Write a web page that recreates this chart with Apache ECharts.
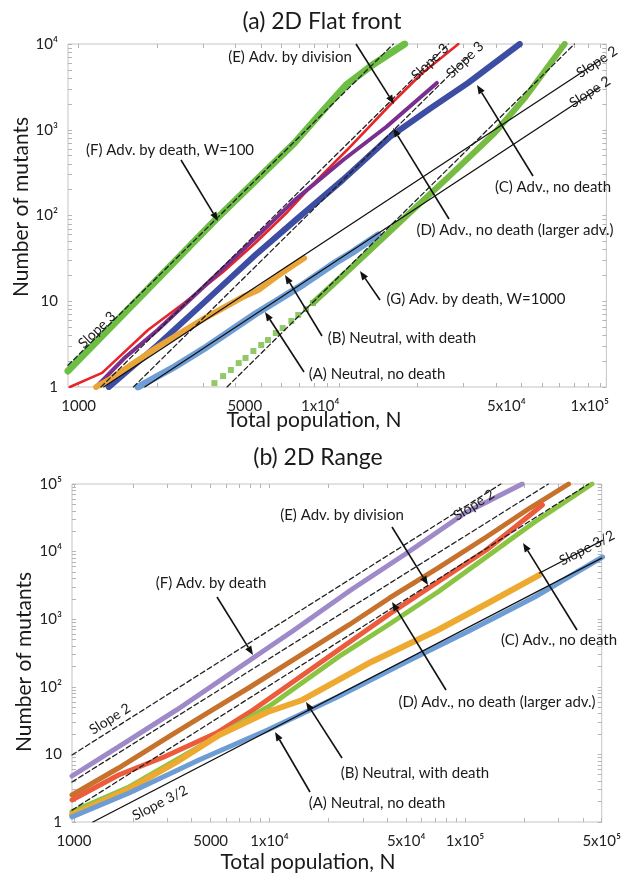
<!DOCTYPE html>
<html><head><meta charset="utf-8">
<script src="https://cdn.jsdelivr.net/npm/echarts@6/dist/echarts.min.js"></script>
<style>html,body{margin:0;padding:0;background:#fff}#c{width:624px;height:874px}</style>
</head><body><div id="c"></div>
<script>
// ---------- Panel (a) 2D Flat front : [N, mutants] ----------
const aF = [[910,1.54],[1845,13.9],[3342,88.6],[4764,253],[6730,700],[8710,1700],[10620,3325],[13400,5690],[17820,10000]];
const aE = [[925,1],[1230,1.46],[1845,4.62],[2537,9.54],[3580,21.9],[4764,47.8],[6330,110],[8000,239],[10710,580],[15660,1944],[20650,4470],[28650,10000]];
const aD = [[1167,1],[1514,2.24],[2010,4.62],[3098,15.9],[4764,54.7],[6730,150],[10350,444],[15140,1077],[23700,3510]];
const aC = [[1306,1],[2010,3.09],[3098,10.3],[4764,34.6],[6730,86],[10350,262],[15660,830],[22490,1795],[31190,3510],[49300,10000]];
const aGsq = [[3318,1.11],[3583,1.34],[3838,1.58],[4113,1.90],[4369,2.18],[4683,2.63],[5018,3.09],[5329,3.53],[5710,4.26],[6067,4.87],[6551,5.89],[6960,6.92],[7460,8.12],[7927,9.54]];
const aG = [[7927,9.54],[11090,24.4],[18620,107],[26240,281],[39470,916],[51900,2410],[73300,10000]];
const aA = [[1690,1],[2328,1.71],[3098,2.93],[4764,7.10],[7330,15.9],[9745,28.7],[11280,37.5],[14120,59.3]];
const aB = [[1167,1],[1306,1.21],[2010,2.93],[3098,6.55],[4256,11.2],[4888,13.5],[6013,21.4],[7330,31.9]];
// reference lines (a)
const aRefF = [[910,1.79],[16130,10000]];      // slope 3
const aRefE = [[1218,1],[26240,10000]];        // slope 3
const aRefC = [[1622,1],[31000,6970]];         // slope 3
const aRefG = [[3710,1],[79900,10000]];        // slope 3
const aRefA = [[1793,1],[100000,3110]];        // slope 2
const aRefB = [[1247,1],[100000,6430]];        // slope 2

// ---------- Panel (b) 2D Range ----------
const bF = [[977,4.79],[1914,16.3],[3350,45.4],[7960,249],[13150,669],[26060,2704],[50460,9530],[100000,37240],[196000,100000]];
const bE = [[977,2.51],[1690,6.29],[2985,17.5],[5108,45.4],[7960,99.3],[13150,249],[25450,821],[41110,2060],[72600,5718],[128500,16440],[214700,44150],[338600,100000]];
const bD = [[977,2.12],[1690,4.96],[2884,9.16],[5346,20.7],[7960,42.4],[13150,118],[23240,375],[41110,1194],[72600,3548],[128500,10560],[248800,48900]];
const bC = [[977,1.41],[1914,3.29],[4355,12.9],[10000,52],[23240,295],[41110,849],[72600,2525],[128500,8320],[227200,27400],[445400,100000]];
const bB = [[977,1.27],[1914,3.08],[3350,7.72],[5531,19.4],[9774,42.4],[14730,63.8],[33110,233],[72600,692],[128500,1678],[240400,4508]];
const bA = [[977,1.19],[1914,2.69],[4355,8.26],[9774,23.0],[22230,70.6],[49890,233],[102300,647],[227200,2130],[505000,8320]];
const bRefF = [[977,9.8],[152400,100000]];     // "slope 2"
const bRefE = [[977,3.9],[266700,100000]];     // "slope 2"
const bRefC = [[977,1.5],[428500,100000]];     // "slope 2"
const bRefA = [[1250,1],[500000,8000]];        // slope 3/2
const bRefB = [[240400,4823],[505000,14690]];  // slope 3/2

// ---------- ticks / labels ----------
const xTickA = [1000,2000,3000,4000,5000,6000,7000,8000,9000,10000,20000,30000,40000,50000,60000,70000,80000,90000,100000];
const xTickB = [1000,2000,3000,4000,5000,6000,7000,8000,9000,10000,20000,30000,40000,50000,60000,70000,80000,90000,100000,200000,300000,400000,500000];
const xLabA = [1000,5000,10000,50000,100000];
const xLabB = [1000,5000,10000,50000,100000,500000];
const xLabText = {1000:'1000',5000:'5000',10000:'1x10⁴',50000:'5x10⁴',100000:'1x10⁵',500000:'5x10⁵'};
const yTickA = [1,2,3,4,5,6,7,8,9,10,20,30,40,50,60,70,80,90,100,200,300,400,500,600,700,800,900,1000,2000,3000,4000,5000,6000,7000,8000,9000,10000];
const yTickB = [1,2,3,4,5,6,7,8,9,10,20,30,40,50,60,70,80,90,100,200,300,400,500,600,700,800,900,1000,2000,3000,4000,5000,6000,7000,8000,9000,10000,20000,30000,40000,50000,60000,70000,80000,90000,100000];
const yLabA = [1,10,100,1000,10000];
const yLabB = [1,10,100,1000,10000,100000];
const yLabText = {1:'1',10:'10',100:'10²',1000:'10³',10000:'10⁴',100000:'10⁵'};
// panel (a) x labels sit left of their ticks in the original: right-side pad width per label
const xPadA = {1000:0,5000:32,10000:38,50000:30,100000:20};

const FONT = 'Lato, "Open Sans", sans-serif';
const chart = echarts.init(document.getElementById('c'));

function xAx(grid, min, max, ticks, labs, top, pads){
  const rich = {t:{fontFamily:FONT, fontSize:15, color:'#222'}};
  if (pads) Object.keys(pads).forEach(k=>{ rich['p'+k] = {width:pads[k], fontSize:15}; });
  return {type:'log', gridIndex:grid, min:min, max:max, position: top?'top':'bottom',
    axisLine:{show:false}, splitLine:{show:false},
    axisTick:{show:true, inside:true, length:4, customValues:ticks, lineStyle:{color:'#b5b5b5'}},
    axisLabel:{show:!top, customValues:labs, margin:12, fontFamily:FONT, fontSize:15, color:'#222', rich:rich,
      formatter:v=>{ const k=Math.round(v); const s=xLabText[k]||'';
        return (pads && pads[k]) ? '{t|'+s+'}{p'+k+'| }' : '{t|'+s+'}'; }}};
}
function yAx(grid, min, max, ticks, labs, right){
  return {type:'log', gridIndex:grid, min:min, max:max, position: right?'right':'left',
    axisLine:{show:false}, splitLine:{show:false},
    axisTick:{show:true, inside:true, length:4, customValues:ticks, lineStyle:{color:'#b5b5b5'}},
    axisLabel:{show:!right, customValues:labs, margin:10, fontFamily:FONT, fontSize:15, color:'#222',
      formatter:v=>yLabText[Math.round(v)]||''}};
}
function ln(xi, data, color, w, z, type){
  return {type:'line', xAxisIndex:xi, yAxisIndex:xi, data:data, showSymbol:false, smooth:false,
    lineStyle:{color:color, width:w, type:type||'solid', cap:'round', join:'round'}, z:z||2, silent:true, animation:false};
}
const DASH=[5,3];
const series = [
  ln(0,aF,'#6DBE45',7), ln(0,aE,'#E5262A',2.6), ln(0,aD,'#7A2E8E',4), ln(0,aC,'#3D4DA3',6),
  ln(0,aG,'#76BC43',6), ln(0,aA,'#6F9ED6',7), ln(0,aB,'#E9A53A',6),
  {type:'scatter', xAxisIndex:0, yAxisIndex:0, data:aGsq, symbol:'rect', symbolSize:6, itemStyle:{color:'#76BC43'}, silent:true, animation:false},
  ln(0,aRefF,'#222',1.3,3,DASH), ln(0,aRefE,'#222',1.3,3,DASH), ln(0,aRefC,'#222',1.3,3,DASH), ln(0,aRefG,'#222',1.3,3,DASH),
  ln(0,aRefA,'#111',1.3,3), ln(0,aRefB,'#111',1.3,3),
  ln(1,bF,'#9E89C9',5), ln(1,bE,'#C7722C',5), ln(1,bD,'#EC5B3B',5), ln(1,bC,'#8BC443',5),
  ln(1,bB,'#EDA930',6), ln(1,bA,'#6E9DD5',5),
  ln(1,bRefF,'#222',1.3,3,DASH), ln(1,bRefE,'#222',1.3,3,DASH), ln(1,bRefC,'#222',1.3,3,DASH),
  ln(1,bRefA,'#111',1.3,3), ln(1,bRefB,'#111',1.3,3)
];

function txt(x,y,s,size,rot){
  return {type:'text', x:x, y:y, rotation:rot||0, z:100,
    style:{text:s, fontFamily:FONT, fontSize:size, fill:'#1a1a1a', align:'center', verticalAlign:'middle'}};
}
function arrow(x1,y1,x2,y2){
  const a=Math.atan2(y2-y1,x2-x1), L=9, W=3.5;
  const bx=x2-L*Math.cos(a), by=y2-L*Math.sin(a);
  const px=-Math.sin(a)*W, py=Math.cos(a)*W;
  return [{type:'line', z:100, shape:{x1:x1,y1:y1,x2:bx,y2:by}, style:{stroke:'#111',lineWidth:1.6}},
          {type:'polygon', z:100, shape:{points:[[x2,y2],[bx+px,by+py],[bx-px,by-py]]}, style:{fill:'#111'}}];
}
const deg = Math.PI/180;
const graphics = [
  txt(322,22,'(a) 2D Flat front',23), txt(314,420,'Total population, N',21), txt(21,207,'Number of mutants',21,90*deg),
  txt(290,57,'(E) Adv. by division',15), txt(170,150,'(F) Adv. by death, W=100',15),
  txt(553,187,'(C) Adv., no death',15), txt(515,230,'(D) Adv., no death (larger adv.)',15),
  txt(476,299,'(G) Adv. by death, W=1000',15), txt(402,338,'(B) Neutral, with death',15),
  txt(377,374,'(A) Neutral, no death',15),
  txt(97,330,'Slope 3',14,44*deg), txt(430,62,'Slope 3',14,44*deg), txt(465,60,'Slope 3',14,44*deg),
  txt(597,62,'Slope 2',14,33*deg), txt(590,92,'Slope 2',14,33*deg),
  ...arrow(356,44,394,104), ...arrow(181,160,218,221), ...arrow(533,176,477,85), ...arrow(449,219,393,128),
  ...arrow(380,300,360,271), ...arrow(322,336,285,275), ...arrow(304,372,265,312),

  txt(318,458,'(b) 2D Range',23), txt(308,862,'Total population, N',21), txt(24,662,'Number of mutants',21,90*deg),
  txt(342,515,'(E) Adv. by division',15), txt(211,583,'(F) Adv. by death',15),
  txt(559,640,'(C) Adv., no death',15), txt(497,702,'(D) Adv., no death (larger adv.)',15),
  txt(415,773,'(B) Neutral, with death',15), txt(377,803,'(A) Neutral, no death',15),
  txt(110,719,'Slope 2',14,32*deg), txt(474,505,'Slope 2',14,32*deg),
  txt(160,803,'Slope 3/2',14,27*deg), txt(587,548,'Slope 3/2',14,27*deg),
  ...arrow(392,527,428,585), ...arrow(217,597,253,655), ...arrow(577,630,523,543), ...arrow(446,690,392,602),
  ...arrow(342,758,306,702), ...arrow(310,792,275,732)
];

chart.setOption({
  animation:false,
  grid:[
    {left:68, top:44, width:552, height:343, show:true, borderColor:'#c4c4c4', borderWidth:1, backgroundColor:'#fff'},
    {left:72, top:484, width:547, height:338, show:true, borderColor:'#c4c4c4', borderWidth:1, backgroundColor:'#fff'}
  ],
  xAxis:[ xAx(0,910,106000,xTickA,xLabA,false,xPadA), xAx(1,977,500000,xTickB,xLabB,false,null),
          xAx(0,910,106000,xTickA,xLabA,true,null), xAx(1,977,500000,xTickB,xLabB,true,null) ],
  yAxis:[ yAx(0,1,10000,yTickA,yLabA,false), yAx(1,1,100000,yTickB,yLabB,false),
          yAx(0,1,10000,yTickA,yLabA,true), yAx(1,1,100000,yTickB,yLabB,true) ],
  series:series,
  graphic:graphics
});
</script></body></html>
